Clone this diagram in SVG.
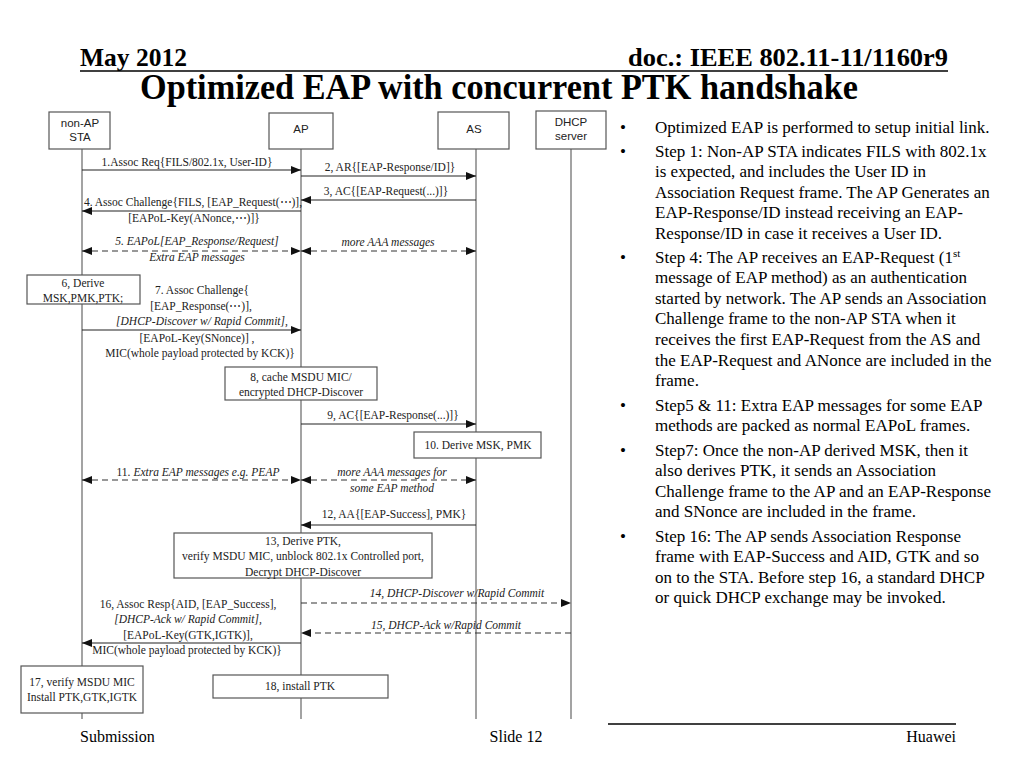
<svg xmlns="http://www.w3.org/2000/svg" width="1024" height="768" viewBox="0 0 1024 768">
<style>
.hdr{font-family:"Liberation Serif","Times New Roman",serif;font-weight:bold;fill:#000}
.ttl{font-family:"Liberation Serif","Times New Roman",serif;font-weight:bold;font-size:35px;fill:#000}
.ftr{font-family:"Liberation Serif","Times New Roman",serif;font-size:16px;fill:#000}
.body{font-family:"Liberation Serif","Times New Roman",serif;font-size:17px;fill:#000}
.lbl{font-family:"Liberation Sans",Arial,sans-serif;font-size:11.5px;fill:#222;text-anchor:middle}
.msg{font-family:"Liberation Serif","Times New Roman",serif;font-size:11.5px;fill:#222;text-anchor:middle}
.it{font-style:italic}
.box{fill:#fff;stroke:#555;stroke-width:1.2}
.life{stroke:#666;stroke-width:1.2;fill:none}
.arr{stroke:#222;stroke-width:1.2;fill:none;marker-end:url(#ah)}
.dash{stroke:#333;stroke-width:1.2;fill:none;stroke-dasharray:6,4;marker-end:url(#ah)}
.both{marker-start:url(#ahs)}
.rule{stroke:#000;stroke-width:1.5}
</style>
<defs>
<marker id="ah" markerUnits="userSpaceOnUse" markerWidth="11" markerHeight="8" refX="10" refY="4" orient="auto"><path d="M0,0 L10,4 L0,8 z" fill="#111"/></marker>
<marker id="ahs" markerUnits="userSpaceOnUse" markerWidth="11" markerHeight="8" refX="10" refY="4" orient="auto-start-reverse"><path d="M0,0 L10,4 L0,8 z" fill="#111"/></marker>
</defs>
<rect width="1024" height="768" fill="#fff"/>

<!-- header -->
<text class="hdr" x="80" y="66" font-size="26" textLength="107" lengthAdjust="spacingAndGlyphs">May 2012</text>
<text class="hdr" x="628" y="66" font-size="26" textLength="320" lengthAdjust="spacingAndGlyphs">doc.: IEEE 802.11-11/1160r9</text>
<line class="rule" x1="80" y1="71" x2="948" y2="71"/>
<text class="ttl" x="140" y="99" textLength="718" lengthAdjust="spacingAndGlyphs">Optimized EAP with concurrent PTK handshake</text>

<!-- lifelines -->
<g id="lifelines">
<line class="life" x1="82" y1="149" x2="82" y2="719"/>
<line class="life" x1="301" y1="149" x2="301" y2="719"/>
<line class="life" x1="476" y1="149" x2="476" y2="719"/>
<line class="life" x1="571" y1="149" x2="571" y2="719"/>
</g>

<g id="sta"><rect class="box" x="49" y="112" width="61" height="37"/><text class="lbl" x="80" y="127">non-AP</text><text class="lbl" x="80" y="141">STA</text></g>
<g id="ap"><rect class="box" x="269" y="113" width="64" height="36"/><text class="lbl" x="301" y="133">AP</text></g>
<g id="as"><rect class="box" x="438" y="112" width="71" height="37"/><text class="lbl" x="474" y="133">AS</text></g>
<g id="dhcp"><rect class="box" x="536" y="111" width="70" height="38"/><text class="lbl" x="571" y="126">DHCP</text><text class="lbl" x="571" y="140">server</text></g>

<!-- connectors -->
<g id="connectors">
<line class="arr" x1="82" y1="170" x2="301" y2="170"/>
<line class="arr" x1="301" y1="176" x2="476" y2="176"/>
<line class="arr" x1="476" y1="200" x2="301" y2="200"/>
<line class="arr" x1="301" y1="211" x2="82" y2="211"/>
<line class="dash both" x1="82" y1="251" x2="301" y2="251"/>
<line class="dash both" x1="301" y1="251" x2="476" y2="251"/>
<line class="arr" x1="82" y1="330" x2="301" y2="330"/>
<line class="arr" x1="301" y1="424" x2="476" y2="424"/>
<line class="dash both" x1="82" y1="480" x2="301" y2="480"/>
<line class="dash both" x1="301" y1="480" x2="476" y2="480"/>
<line class="arr" x1="476" y1="525" x2="301" y2="525"/>
<line class="dash" x1="301" y1="603" x2="571" y2="603"/>
<line class="dash" x1="571" y1="633" x2="301" y2="633"/>
<line class="arr" x1="301" y1="643" x2="82" y2="643"/>
</g>

<!-- message labels -->
<g id="labels">
<text class="msg" x="187" y="166">1.Assoc Req{FILS/802.1x, User-ID}</text>
<text class="msg" x="390" y="171">2, AR{[EAP-Response/ID]}</text>
<text class="msg" x="386" y="195">3, AC{[EAP-Request(...)]}</text>
<text class="msg" x="193" y="206">4. Assoc Challenge{FILS, [EAP_Request(⋯)],</text>
<text class="msg" x="194" y="222">[EAPoL-Key(ANonce,⋯)]}</text>
<text class="msg it" x="197" y="245">5. EAPoL[EAP_Response/Request]</text>
<text class="msg it" x="197" y="261">Extra EAP messages</text>
<text class="msg it" x="388" y="246">more AAA messages</text>
<text class="msg" x="202" y="294">7. Assoc Challenge{</text>
<text class="msg" x="201" y="310">[EAP_Response(⋯)],</text>
<text class="msg it" x="202" y="325">[DHCP-Discover w/ Rapid Commit],</text>
<text class="msg" x="197" y="342">[EAPoL-Key(SNonce)] ,</text>
<text class="msg" x="200" y="357">MIC(whole payload protected by KCK)}</text>
<text class="msg" x="393" y="419">9, AC{[EAP-Response(...)]}</text>
<text class="msg" x="198" y="476">11. <tspan class="it">Extra EAP messages e.g. PEAP</tspan></text>
<text class="msg it" x="392" y="476">more AAA messages for</text>
<text class="msg it" x="392" y="492">some EAP method</text>
<text class="msg" x="394" y="518">12, AA{[EAP-Success], PMK}</text>
<text class="msg it" x="457" y="597">14, DHCP-Discover w/Rapid Commit</text>
<text class="msg it" x="446" y="629">15, DHCP-Ack w/Rapid Commit</text>
<text class="msg" x="188" y="608">16, Assoc Resp{AID, [EAP_Success],</text>
<text class="msg it" x="188" y="623">[DHCP-Ack w/ Rapid Commit],</text>
<text class="msg" x="188" y="639">[EAPoL-Key(GTK,IGTK)],</text>
<text class="msg" x="187" y="654">MIC(whole payload protected by KCK)}</text>
</g>

<!-- process boxes -->
<g id="step6"><rect class="box" x="27" y="275" width="113" height="29"/><text class="msg" x="83" y="287">6, Derive</text><text class="msg" x="83" y="302">MSK,PMK,PTK;</text></g>
<g id="step8"><rect class="box" x="225" y="367" width="152" height="33"/><text class="msg" x="301" y="381">8, cache MSDU MIC/</text><text class="msg" x="301" y="396">encrypted DHCP-Discover</text></g>
<g id="step10"><rect class="box" x="414" y="432" width="127" height="26"/><text class="msg" x="478" y="449">10. Derive MSK, PMK</text></g>
<g id="step13"><rect class="box" x="174" y="533" width="258" height="45"/><text class="msg" x="303" y="545">13, Derive PTK,</text><text class="msg" x="303" y="560">verify MSDU MIC, unblock 802.1x Controlled port,</text><text class="msg" x="303" y="576">Decrypt DHCP-Discover</text></g>
<g id="step17"><rect class="box" x="21" y="666" width="122" height="47"/><text class="msg" x="82" y="686">17, verify MSDU MIC</text><text class="msg" x="82" y="701">Install PTK,GTK,IGTK</text></g>
<g id="step18"><rect class="box" x="213" y="675" width="175" height="23"/><text class="msg" x="300" y="690">18, install PTK</text></g>

<!-- bullets -->
<g id="bullets" class="body">
<text x="620" y="133">•</text><text x="655" y="133">Optimized EAP is performed to setup initial link.</text>
<text x="620" y="157">•</text><text x="655" y="157">Step 1: Non-AP STA indicates FILS with 802.1x</text>
<text x="655" y="177">is expected, and includes the User ID in</text>
<text x="655" y="198">Association Request frame. The AP Generates an</text>
<text x="655" y="218">EAP-Response/ID instead receiving an EAP-</text>
<text x="655" y="239">Response/ID in case it receives a User ID.</text>
<text x="620" y="263">•</text><text x="655" y="263">Step 4: The AP receives an EAP-Request (1<tspan font-size="11" dy="-6">st</tspan></text>
<text x="655" y="283">message of EAP method) as an authentication</text>
<text x="655" y="304">started by network. The AP sends an Association</text>
<text x="655" y="324">Challenge frame to the non-AP STA when it</text>
<text x="655" y="345">receives the first EAP-Request from the AS and</text>
<text x="655" y="366">the EAP-Request and ANonce are included in the</text>
<text x="655" y="386">frame.</text>
<text x="620" y="411">•</text><text x="655" y="411">Step5 &amp; 11: Extra EAP messages for some EAP</text>
<text x="655" y="431">methods are packed as normal EAPoL frames.</text>
<text x="620" y="456">•</text><text x="655" y="456">Step7: Once the non-AP derived MSK, then it</text>
<text x="655" y="476">also derives PTK, it sends an Association</text>
<text x="655" y="497">Challenge frame to the AP and an EAP-Response</text>
<text x="655" y="517">and SNonce are included in the frame.</text>
<text x="620" y="542">•</text><text x="655" y="542">Step 16: The AP sends Association Response</text>
<text x="655" y="562">frame with EAP-Success and AID, GTK and so</text>
<text x="655" y="583">on to the STA. Before step 16, a standard DHCP</text>
<text x="655" y="603">or quick DHCP exchange may be invoked.</text>
</g>

<!-- footer -->
<line class="rule" x1="608" y1="724" x2="956" y2="724"/>
<text class="ftr" x="80" y="742">Submission</text>
<text class="ftr" x="516" y="742" text-anchor="middle">Slide 12</text>
<text class="ftr" x="956" y="742" text-anchor="end">Huawei</text>
</svg>
